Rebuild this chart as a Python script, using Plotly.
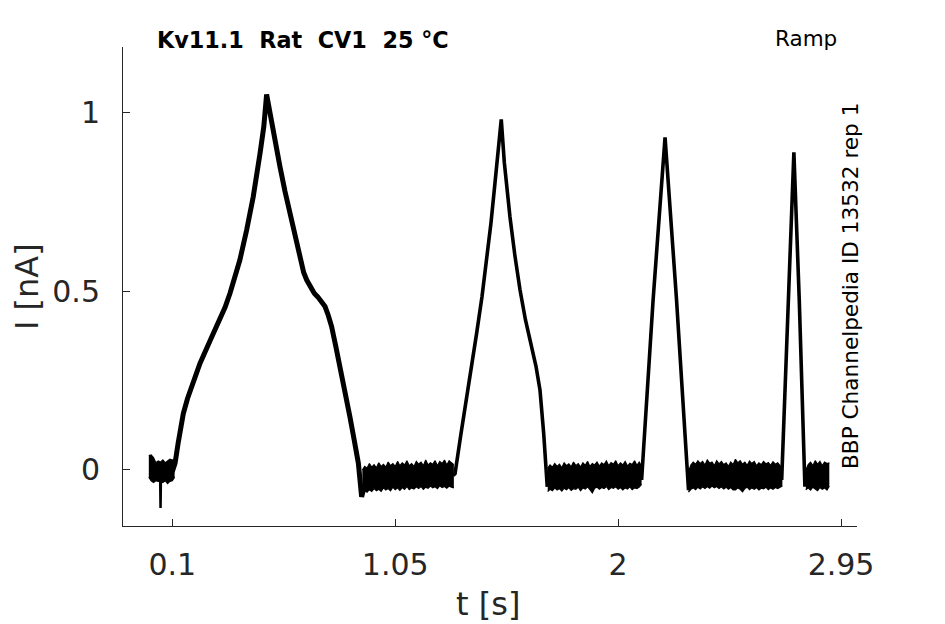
import plotly.graph_objects as go

# ---------------- data ----------------
x_tick_vals = [0.1, 1.05, 2.0, 2.95]
x_tick_text = ["0.1", "1.05", "2", "2.95"]
y_tick_vals = [0, 0.5, 1]
y_tick_text = ["0", "0.5", "1"]

# ramp responses (centre of the overlaid sweeps), t in s, I in nA
ramp1_t = [0.100, 0.112, 0.125, 0.147, 0.165, 0.190, 0.218, 0.260, 0.303, 0.325, 0.346,
           0.368, 0.388, 0.417, 0.445, 0.474, 0.490, 0.502, 0.515, 0.530, 0.559, 0.580,
           0.601, 0.622, 0.643, 0.660, 0.673, 0.690, 0.705, 0.720, 0.735, 0.751, 0.765,
           0.779, 0.797, 0.815, 0.836, 0.857, 0.875, 0.893, 0.907, 0.920]
ramp1_i = [-0.005, 0.019, 0.075, 0.158, 0.200, 0.245, 0.298, 0.360, 0.419, 0.455, 0.494,
           0.540, 0.587, 0.671, 0.764, 0.885, 0.960, 1.050, 1.000, 0.950, 0.848, 0.780,
           0.718, 0.650, 0.587, 0.552, 0.531, 0.508, 0.494, 0.484, 0.472, 0.457, 0.432,
           0.401, 0.345, 0.289, 0.220, 0.149, 0.085, 0.019, -0.075, -0.040]

ramp2_t = [1.297, 1.305, 1.330, 1.354, 1.376, 1.397, 1.420, 1.440, 1.458, 1.475, 1.490,
           1.502, 1.515, 1.539, 1.560, 1.582, 1.605, 1.631, 1.650, 1.667, 1.683, 1.698]
ramp2_i = [-0.015, -0.010, 0.100, 0.196, 0.290, 0.382, 0.485, 0.587, 0.690, 0.801, 0.890,
           0.980, 0.860, 0.708, 0.600, 0.503, 0.420, 0.345, 0.290, 0.224, 0.100, -0.047]

ramp3_t = [2.100, 2.149, 2.200, 2.249, 2.300]
ramp3_i = [-0.028, 0.475, 0.930, 0.475, -0.056]

ramp4_t = [2.697, 2.725, 2.749, 2.772, 2.796]
ramp4_i = [-0.028, 0.475, 0.888, 0.475, -0.047]

# initial artefact spike
spike_t = [0.048, 0.050, 0.052]
spike_i = [-0.010, -0.106, -0.010]

# baseline noise band (upper / lower envelope of the overlaid sweeps)
baseA_t = [0.00, 0.01, 0.02, 0.03, 0.04, 0.05, 0.06, 0.07, 0.08, 0.09, 0.10, 0.11]
baseA_hi = [0.040, 0.042, 0.035, 0.020, 0.025, 0.022, 0.028, 0.020, 0.025, 0.030, 0.028, 0.030]
baseA_lo = [-0.020, -0.030, -0.035, -0.030, -0.032, -0.030, -0.035, -0.030, -0.038, -0.032, -0.030, -0.020]

baseB_t = [0.91, 0.92, 0.93, 0.94, 0.95, 0.96, 0.97, 0.98, 0.99, 1.00,
           1.01, 1.02, 1.03, 1.04, 1.05, 1.06, 1.07, 1.08, 1.09, 1.10,
           1.11, 1.12, 1.13, 1.14, 1.15, 1.16, 1.17, 1.18, 1.19, 1.20,
           1.21, 1.22, 1.23, 1.24, 1.25, 1.26, 1.27, 1.28, 1.29, 1.30]
baseB_hi = [0.000, 0.010, 0.005, 0.018, 0.008, 0.015, 0.006, 0.020, 0.010, 0.016,
            0.008, 0.022, 0.012, 0.018, 0.010, 0.024, 0.012, 0.020, 0.014, 0.026,
            0.012, 0.018, 0.010, 0.024, 0.016, 0.022, 0.012, 0.028, 0.014, 0.020,
            0.016, 0.026, 0.012, 0.024, 0.018, 0.028, 0.014, 0.026, 0.020, 0.015]
baseB_lo = [-0.070, -0.058, -0.062, -0.055, -0.060, -0.052, -0.058, -0.054, -0.060, -0.050,
            -0.056, -0.052, -0.058, -0.048, -0.055, -0.050, -0.057, -0.049, -0.054, -0.046,
            -0.055, -0.050, -0.053, -0.047, -0.052, -0.046, -0.054, -0.048, -0.051, -0.045,
            -0.050, -0.047, -0.052, -0.044, -0.049, -0.046, -0.051, -0.045, -0.048, -0.050]

baseC_t = [1.70, 1.71, 1.72, 1.73, 1.74, 1.75, 1.76, 1.77, 1.78, 1.79,
           1.80, 1.81, 1.82, 1.83, 1.84, 1.85, 1.86, 1.87, 1.88, 1.89,
           1.90, 1.91, 1.92, 1.93, 1.94, 1.95, 1.96, 1.97, 1.98, 1.99,
           2.00, 2.01, 2.02, 2.03, 2.04, 2.05, 2.06, 2.07, 2.08, 2.09, 2.10]
baseC_hi = [0.005, 0.014, 0.008, 0.018, 0.010, 0.016, 0.006, 0.020, 0.012, 0.017,
            0.009, 0.022, 0.012, 0.018, 0.008, 0.020, 0.013, 0.024, 0.010, 0.018,
            0.014, 0.022, 0.011, 0.020, 0.015, 0.025, 0.012, 0.021, 0.016, 0.026,
            0.012, 0.020, 0.014, 0.024, 0.011, 0.019, 0.015, 0.026, 0.013, 0.022, 0.010]
baseC_lo = [-0.060, -0.054, -0.058, -0.050, -0.056, -0.052, -0.059, -0.051, -0.055, -0.049,
            -0.057, -0.052, -0.054, -0.048, -0.058, -0.050, -0.053, -0.047, -0.055, -0.064,
            -0.051, -0.048, -0.054, -0.049, -0.052, -0.046, -0.055, -0.049, -0.051, -0.047,
            -0.054, -0.049, -0.056, -0.050, -0.053, -0.047, -0.055, -0.050, -0.052, -0.048, -0.040]

baseD_t = [2.30, 2.31, 2.32, 2.33, 2.34, 2.35, 2.36, 2.37, 2.38, 2.39,
           2.40, 2.41, 2.42, 2.43, 2.44, 2.45, 2.46, 2.47, 2.48, 2.49,
           2.50, 2.51, 2.52, 2.53, 2.54, 2.55, 2.56, 2.57, 2.58, 2.59,
           2.60, 2.61, 2.62, 2.63, 2.64, 2.65, 2.66, 2.67, 2.68, 2.69, 2.70]
baseD_hi = [-0.005, 0.014, 0.022, 0.016, 0.026, 0.018, 0.024, 0.014, 0.028, 0.019,
            0.022, 0.012, 0.026, 0.017, 0.024, 0.015, 0.020, 0.010, 0.022, 0.015,
            0.030, 0.020, 0.026, 0.016, 0.022, 0.013, 0.025, 0.018, 0.024, 0.012,
            0.020, 0.015, 0.024, 0.017, 0.021, 0.013, 0.023, 0.016, 0.020, 0.012, 0.010]
baseD_lo = [-0.062, -0.054, -0.050, -0.055, -0.048, -0.053, -0.047, -0.052, -0.046, -0.051,
            -0.045, -0.050, -0.046, -0.052, -0.047, -0.053, -0.048, -0.054, -0.049, -0.056,
            -0.056, -0.050, -0.054, -0.061, -0.052, -0.048, -0.055, -0.050, -0.054, -0.049,
            -0.056, -0.051, -0.053, -0.048, -0.055, -0.050, -0.054, -0.049, -0.052, -0.048, -0.045]

baseE_t = [2.80, 2.81, 2.82, 2.83, 2.84, 2.85, 2.86, 2.87, 2.88, 2.89, 2.90]
baseE_hi = [0.000, 0.015, 0.022, 0.012, 0.026, 0.016, 0.024, 0.012, 0.022, 0.018, 0.020]
baseE_lo = [-0.055, -0.050, -0.056, -0.048, -0.053, -0.058, -0.049, -0.054, -0.050, -0.056, -0.045]

title_text = "Kv11.1\u00a0\u00a0Rat\u00a0\u00a0CV1\u00a0\u00a025\u00a0°C"
protocol_text = "Ramp"
source_text = "BBP Channelpedia ID 13532 rep 1"
x_label = "t [s]"
y_label = "I [nA]"

# ---------------- figure ----------------
FONT = "DejaVu Sans"
AX = "#262626"
fig = go.Figure()

for bt, bhi, blo in [(baseA_t, baseA_hi, baseA_lo), (baseB_t, baseB_hi, baseB_lo),
                     (baseC_t, baseC_hi, baseC_lo), (baseD_t, baseD_hi, baseD_lo),
                     (baseE_t, baseE_hi, baseE_lo)]:
    fig.add_trace(go.Scatter(x=bt, y=blo, mode="lines",
                             line=dict(color="black", width=1.2),
                             hoverinfo="skip", showlegend=False))
    fig.add_trace(go.Scatter(x=bt, y=bhi, mode="lines", fill="tonexty",
                             fillcolor="black", line=dict(color="black", width=1.2),
                             hoverinfo="skip", showlegend=False))

fig.add_trace(go.Scatter(x=spike_t, y=spike_i, mode="lines",
                         line=dict(color="black", width=2.5), showlegend=False))
fig.add_trace(go.Scatter(x=ramp1_t, y=ramp1_i, mode="lines",
                         line=dict(color="black", width=5), showlegend=False))
for rt, ri in [(ramp2_t, ramp2_i), (ramp3_t, ramp3_i), (ramp4_t, ramp4_i)]:
    fig.add_trace(go.Scatter(x=rt, y=ri, mode="lines",
                             line=dict(color="black", width=3.6), showlegend=False))

# page has an 8 px body margin: figure starts at (8, 8) in the screenshot
OFF = 8
W, H = 945 - OFF, 624 - OFF
PL, PR, PT, PB = 123, 857, 47, 526          # plot area in screenshot pixels
L, T = PL - OFF, PT - OFF
R, B = W - (PR - OFF), H - (PB - OFF)
pw, ph = PR - PL, PB - PT

def px(xp):
    return (xp - PL) / pw

def py(yp):
    return (PB - yp) / ph

fig.update_layout(
    width=W, height=H,
    margin=dict(l=L, r=R, t=T, b=B, pad=0),
    paper_bgcolor="white", plot_bgcolor="white",
    font=dict(family=FONT, color=AX),
    showlegend=False,
    xaxis=dict(range=[-0.110, 3.018], tickvals=x_tick_vals, ticktext=x_tick_text,
               showgrid=False, zeroline=False, showline=True, linecolor=AX, linewidth=1,
               ticks="inside", ticklen=7, tickwidth=1, tickcolor=AX,
               tickfont=dict(size=30, color=AX, family=FONT), ticklabelstandoff=12,
               mirror=False),
    yaxis=dict(range=[-0.1566, 1.1826], tickvals=y_tick_vals, ticktext=y_tick_text,
               showgrid=False, zeroline=False, showline=True, linecolor=AX, linewidth=1,
               ticks="inside", ticklen=7, tickwidth=1, tickcolor=AX,
               tickfont=dict(size=30, color=AX, family=FONT), ticklabelstandoff=16,
               mirror=False),
    annotations=[
        dict(text=x_label, xref="paper", yref="paper", x=px(488), y=py(604),
             xanchor="center", yanchor="middle", showarrow=False,
             font=dict(size=32, color=AX, family=FONT)),
        dict(text=y_label, xref="paper", yref="paper", x=px(27), y=py(287),
             xanchor="center", yanchor="middle", showarrow=False, textangle=-90,
             font=dict(size=32, color=AX, family=FONT)),
        dict(text="<b>" + title_text + "</b>", xref="paper", yref="paper", x=px(155), y=py(40),
             xanchor="left", yanchor="middle", showarrow=False,
             font=dict(size=22.3, color="black", family=FONT)),
        dict(text=protocol_text, xref="paper", yref="paper", x=px(839), y=py(39),
             xanchor="right", yanchor="middle", showarrow=False,
             font=dict(size=21.5, color="black", family=FONT)),
        dict(text=source_text, xref="paper", yref="paper", x=px(850), y=py(286),
             xanchor="center", yanchor="middle", showarrow=False, textangle=-90,
             font=dict(size=21.6, color="black", family=FONT)),
    ],
)

fig.write_html("out.html")
